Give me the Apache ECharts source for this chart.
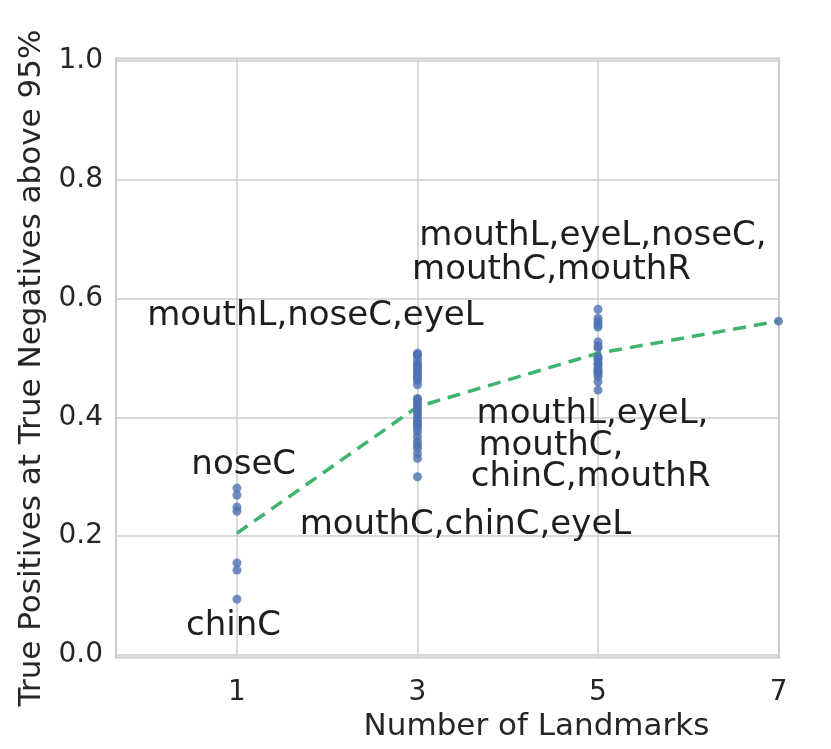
<!DOCTYPE html>
<html><head><meta charset="utf-8">
<script src="https://cdn.jsdelivr.net/npm/echarts@6/dist/echarts.min.js"></script>
<style>html,body{margin:0;padding:0;background:#fff}#c{width:831px;height:749px}</style>
</head><body><div id="c"></div><script>
const xTicks = [1, 3, 5, 7];
const yTicks = [0, 0.2, 0.4, 0.6, 0.8, 1.0];
const landmarkCounts = [1, 3, 5, 7];
const tprN1 = [0.281, 0.269, 0.249, 0.242, 0.155, 0.143, 0.094];
const tprN3 = [0.508, 0.504, 0.506, 0.497, 0.491, 0.488, 0.485, 0.480, 0.478, 0.474, 0.469, 0.466, 0.462, 0.455,
  0.432, 0.430, 0.426, 0.421, 0.418, 0.412, 0.408, 0.404, 0.398, 0.394, 0.390, 0.386, 0.382, 0.376, 0.368, 0.360,
  0.354, 0.348, 0.339, 0.331, 0.300];
const tprN5 = [0.582, 0.567, 0.561, 0.556, 0.552, 0.527, 0.520, 0.517, 0.502, 0.500, 0.497, 0.491, 0.490, 0.485,
  0.480, 0.480, 0.475, 0.474, 0.469, 0.460, 0.446];
const tprN7 = [0.562];
const meanLine = [0.205, 0.418, 0.508, 0.562];
const annotationTexts = ['mouthL,eyeL,noseC,', 'mouthC,mouthR', 'mouthL,noseC,eyeL', 'mouthL,eyeL,', 'mouthC,',
  'chinC,mouthR', 'noseC', 'mouthC,chinC,eyeL', 'chinC'];
const annotationX = [3.02, 2.94, 0.005, 3.655, 3.675, 3.59, 0.495, 1.695, 0.435];
const annotationY = [0.705, 0.648, 0.571, 0.405, 0.352, 0.299, 0.319, 0.219, 0.048];

const groups = [tprN1, tprN3, tprN5, tprN7];
const scatterData = [];
groups.forEach((g, i) => g.forEach(v => scatterData.push([landmarkCounts[i], v])));
const lineData = landmarkCounts.map((x, i) => [x, meanLine[i]]);
const annData = annotationTexts.map((t, i) => [annotationX[i], annotationY[i], t]);

const FONT = 'DejaVu Sans';
const TXT = '#262626';
const chart = echarts.init(document.getElementById('c'), null, {renderer: 'canvas'});
chart.setOption({
  animation: false,
  backgroundColor: '#fff',
  grid: {left: 116, right: 52, top: 58.5, bottom: 91.5, show: true, borderColor: '#cccccc', borderWidth: 2, backgroundColor: 'transparent'},
  xAxis: {
    type: 'value', min: -0.34, max: 7.005,
    name: 'Number of Landmarks', nameLocation: 'middle', nameGap: 54,
    nameTextStyle: {fontFamily: FONT, fontSize: 31, color: TXT, padding: [0, 0, 0, 178]},
    axisLine: {show: false},
    axisTick: {show: false, customValues: xTicks},
    axisLabel: {customValues: xTicks, fontFamily: FONT, fontSize: 28, color: TXT, margin: 21},
    splitLine: {show: true, lineStyle: {color: '#cccccc', width: 1.5}}
  },
  yAxis: {
    type: 'value', min: -0.0042, max: 1.0042,
    name: 'True Positives at True Negatives above 95%', nameLocation: 'middle', nameGap: 62,
    nameTextStyle: {fontFamily: FONT, fontSize: 31, color: TXT, padding: [0, 20, 0, 0]},
    axisLine: {show: false},
    axisTick: {show: false, customValues: yTicks},
    axisLabel: {customValues: yTicks, fontFamily: FONT, fontSize: 28, color: TXT, margin: 13,
      formatter: v => v.toFixed(1)},
    splitLine: {show: true, lineStyle: {color: '#cccccc', width: 1.5}}
  },
  series: [
    {
      type: 'line', data: lineData, symbol: 'none', z: 3,
      lineStyle: {color: '#3fb370', width: 3.5, type: [13, 8]}
    },
    {
      type: 'scatter', data: scatterData, symbolSize: 9, z: 4,
      itemStyle: {color: '#4c72b0', opacity: 0.8}
    },
    {
      type: 'scatter', data: annData, symbolSize: 0, z: 5, silent: true,
      itemStyle: {opacity: 1},
      label: {show: true, position: [0, 0], align: 'left', verticalAlign: 'middle', opacity: 1,
        textBorderWidth: 0, formatter: p => p.value[2], fontFamily: FONT, fontSize: 34, color: '#1e1e1e'}
    }
  ]
});
</script></body></html>
